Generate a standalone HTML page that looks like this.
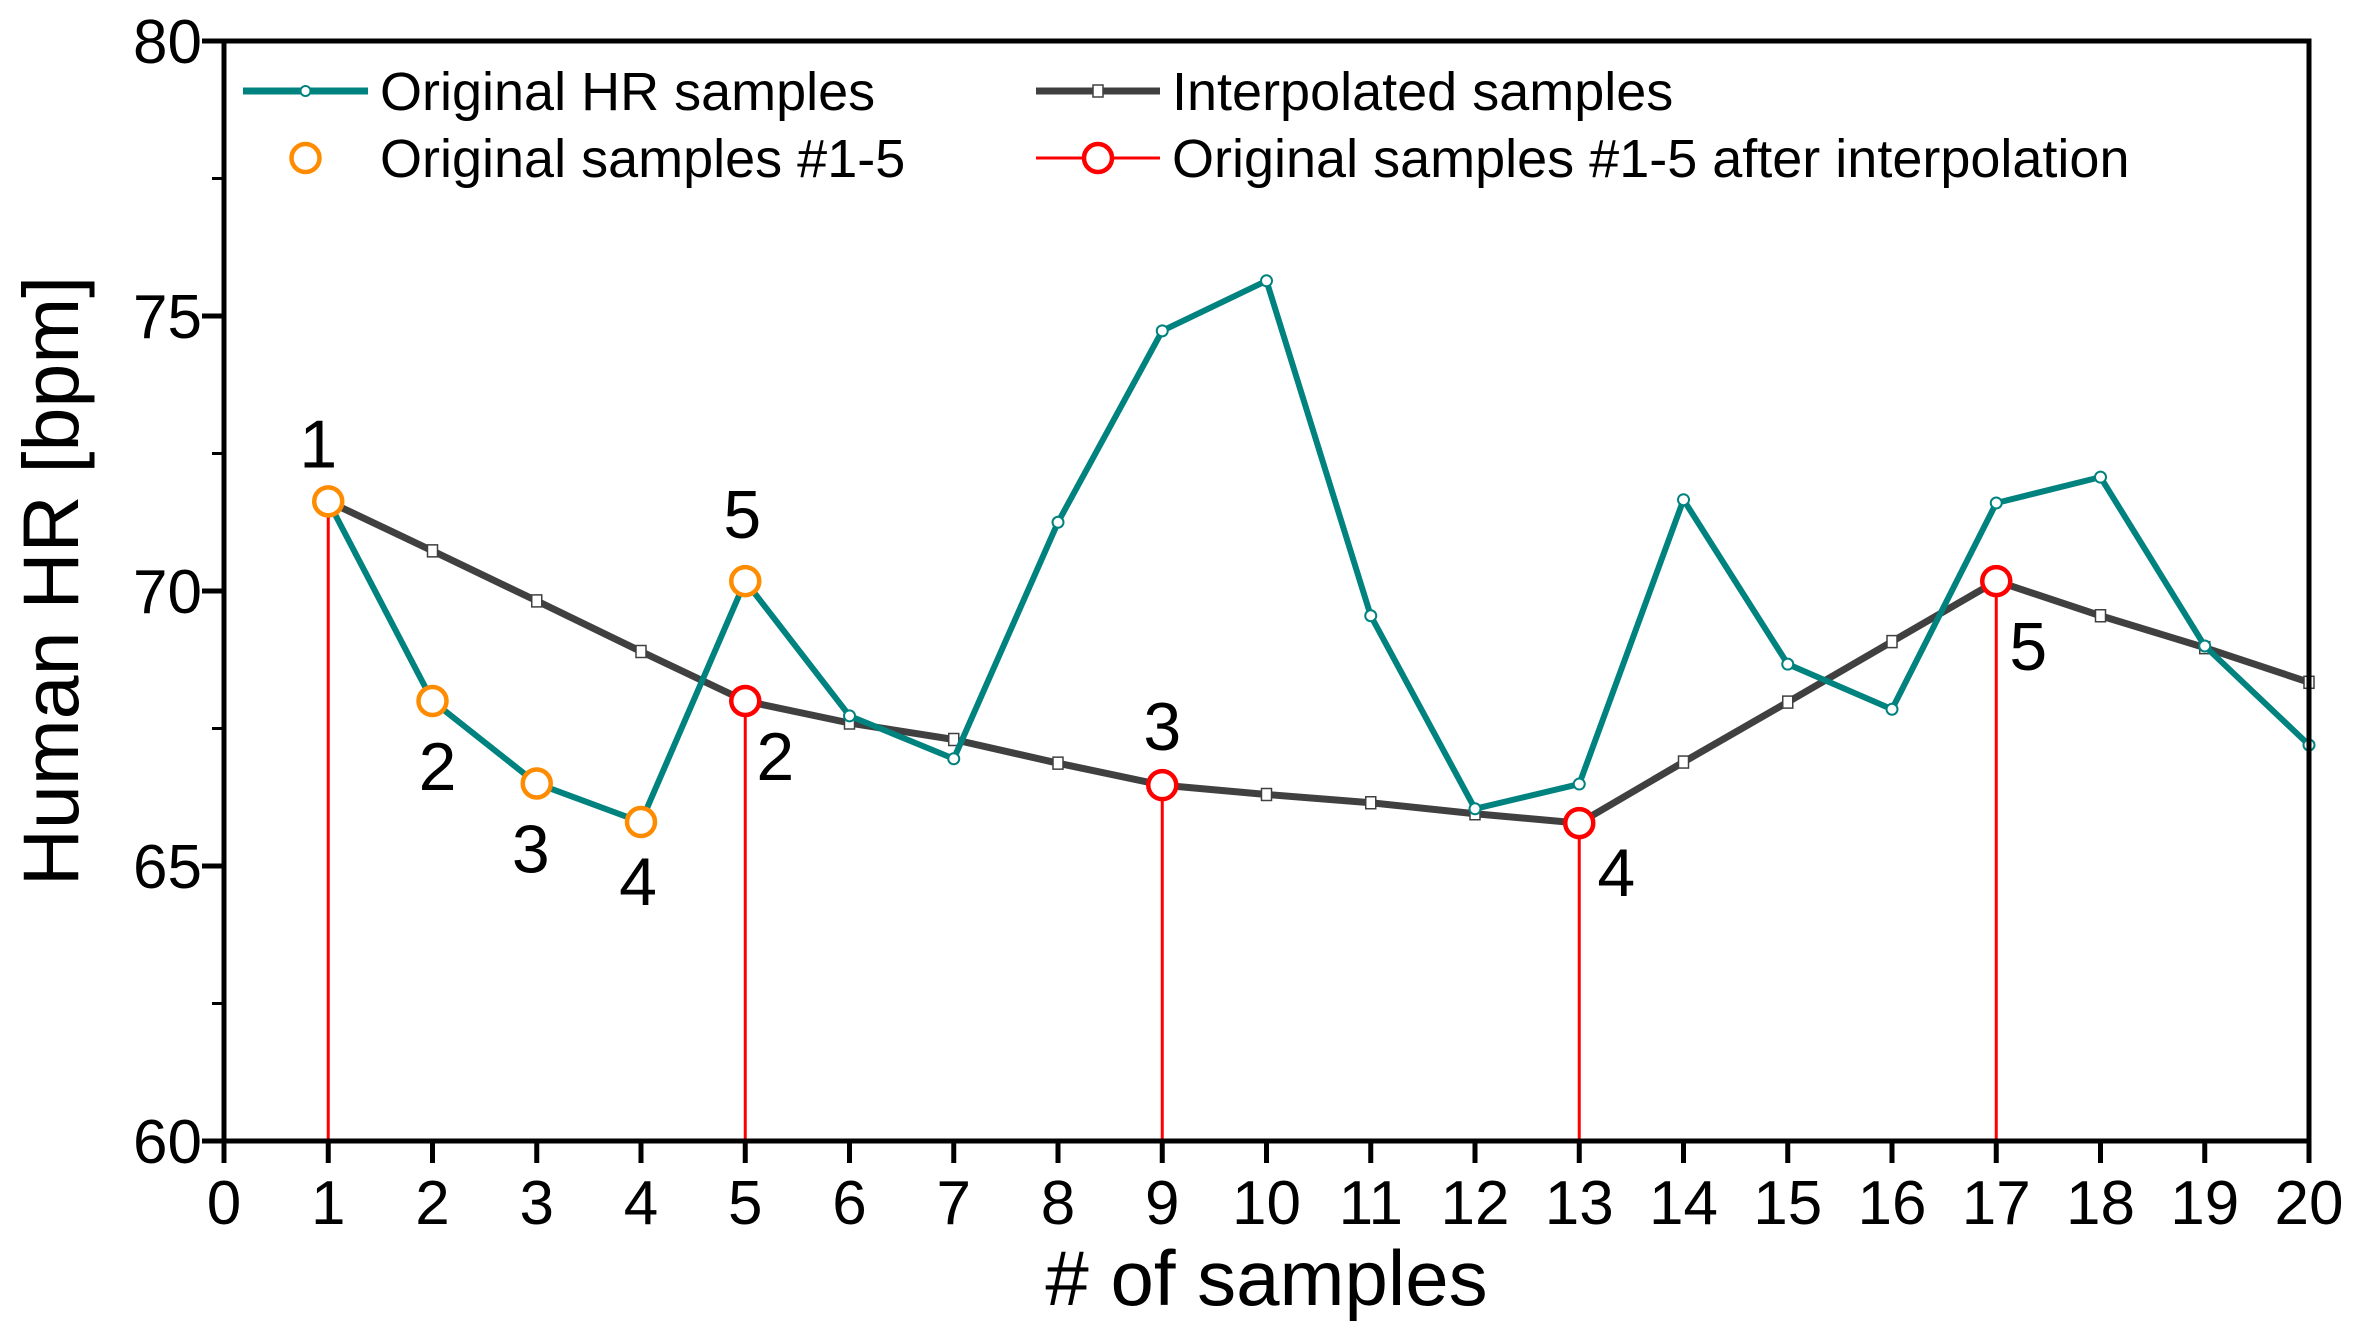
<!DOCTYPE html>
<html><head><meta charset="utf-8"><style>
html,body{margin:0;padding:0;background:#fff}
svg{display:block;font-family:"Liberation Sans",Arial,sans-serif}
</style></head><body>
<svg id="chart" width="2365" height="1338" viewBox="0 0 2365 1338" xmlns="http://www.w3.org/2000/svg">
<g id="grid"></g>
<g id="series"></g>
<g id="axes"></g>
<g id="labels"></g>
<g id="legend"></g>
</svg>
<script>
const xCats = [0,1,2,3,4,5,6,7,8,9,10,11,12,13,14,15,16,17,18,19,20];
const yTicks = [60,65,70,75,80];
const origX = [1,2,3,4,5,6,7,8,9,10,11,12,13,14,15,16,17,18,19,20];
const origHR = [71.63,68.0,66.5,65.8,70.18,67.73,66.95,71.25,74.73,75.64,69.55,66.04,66.49,71.66,68.67,67.85,71.6,72.07,69.0,67.2];
const interpX = [1,2,3,4,5,6,7,8,9,10,11,12,13,14,15,16,17,18,19,20];
const interpHR = [71.63,70.73,69.82,68.9,68.0,67.6,67.3,66.87,66.47,66.3,66.15,65.95,65.78,66.89,67.98,69.08,70.18,69.55,68.97,68.34];
const orangeIdx = [1,2,3,4,5];
const redIdx = [1,5,9,13,17];
const orangeLabels = ["1","2","3","4","5"];
const redLabels = ["1","2","3","4","5"];

const X0=224, X1=2309, Y0=1141, Y1=41;
const xs = v => X0 + (v-0)/(20-0)*(X1-X0);
const ys = v => Y0 - (v-60)/(80-60)*(Y0-Y1);
const NS="http://www.w3.org/2000/svg";
function mk(tag, attrs, parent, text){
  const e=document.createElementNS(NS,tag);
  for(const k in attrs) e.setAttribute(k,attrs[k]);
  if(text!==undefined) e.textContent=text;
  parent.appendChild(e); return e;
}
const S=document.getElementById('series'), A=document.getElementById('axes'), L=document.getElementById('labels'), G=document.getElementById('legend');
const TEAL="#00827f", GRAY="#404040", ORANGE="#ff8c00", RED="#ff0000";

redIdx.forEach((xi,i)=>{
  const v=interpHR[interpX.indexOf(xi)];
  const l=mk('line',{x1:xs(xi),x2:xs(xi),y1:ys(v),y2:Y0,stroke:RED,'stroke-width':3},S);
  
  
});
let p=mk('polyline',{points:interpX.map((x,i)=>xs(x)+','+ys(interpHR[i])).join(' '),fill:'none',stroke:GRAY,'stroke-width':7,'stroke-linejoin':'round'},S);


interpX.forEach((x,i)=>{
  const r=mk('rect',{x:xs(x)-5,y:ys(interpHR[i])-6,width:10,height:12,fill:'#fff',stroke:GRAY,'stroke-width':1.5},S);
  
  
});
p=mk('polyline',{points:origX.map((x,i)=>xs(x)+','+ys(origHR[i])).join(' '),fill:'none',stroke:TEAL,'stroke-width':6,'stroke-linejoin':'round'},S);


origX.forEach((x,i)=>{
  const c=mk('circle',{cx:xs(x),cy:ys(origHR[i]),r:5.5,fill:'#fff',stroke:TEAL,'stroke-width':2},S);
  
  
});
orangeIdx.forEach((xi,i)=>{
  const c=mk('circle',{cx:xs(xi),cy:ys(origHR[origX.indexOf(xi)]),r:14,fill:'#fff',stroke:ORANGE,'stroke-width':4.5},S);
  
  
});
redIdx.slice(1).forEach((xi,i)=>{
  const c=mk('circle',{cx:xs(xi),cy:ys(interpHR[interpX.indexOf(xi)]),r:14,fill:'#fff',stroke:RED,'stroke-width':4.5},S);
  
  
});
const oOff=[[-10,-57],[5,66],[-6,66],[-3,60],[-3,-66]];
orangeIdx.forEach((xi,i)=>{
  const t=mk('text',{x:xs(xi)+oOff[i][0],y:ys(origHR[origX.indexOf(xi)])+oOff[i][1],'font-size':68,'text-anchor':'middle','dominant-baseline':'central'},L,orangeLabels[i]);
  
  
});
const rOff=[[0,0],[30,56],[0,-58],[37,50],[32,66]];
redIdx.forEach((xi,i)=>{
  if(i===0) return;
  const t=mk('text',{x:xs(xi)+rOff[i][0],y:ys(interpHR[interpX.indexOf(xi)])+rOff[i][1],'font-size':68,'text-anchor':'middle','dominant-baseline':'central'},L,redLabels[i]);
  
  
});
let f=mk('rect',{x:X0,y:Y1,width:X1-X0,height:Y0-Y1,fill:'none',stroke:'#000','stroke-width':5},A);


xCats.forEach(v=>{
  mk('line',{x1:xs(v),x2:xs(v),y1:Y0,y2:Y0+22,stroke:'#000','stroke-width':5},A);
  const t=mk('text',{x:xs(v),y:Y0+83,'font-size':62,'text-anchor':'middle'},A,String(v));
  
  
});
yTicks.forEach((v,i)=>{
  mk('line',{x1:X0-22,x2:X0,y1:ys(v),y2:ys(v),stroke:'#000','stroke-width':5},A);
  if(i<yTicks.length-1) mk('line',{x1:X0-12,x2:X0,y1:ys(v+2.5),y2:ys(v+2.5),stroke:'#000','stroke-width':3},A);
  const t=mk('text',{x:X0-22,y:ys(v)+22,'font-size':62,'text-anchor':'end'},A,String(v));
  
  
});
let t=mk('text',{x:(X0+X1)/2,y:1305,'font-size':78,'text-anchor':'middle'},A,'# of samples');


t=mk('text',{x:0,y:0,'font-size':79,'text-anchor':'middle',transform:'translate(78,581) rotate(-90)'},A,'Human HR [bpm]');


function entry(name,y,lx0,lx1,kind,color,label){
  const g=mk('g',{},G);
  
  
  const cx=(lx0+lx1)/2;
  if(kind==='teal'){mk('line',{x1:lx0,x2:lx1,y1:y,y2:y,stroke:color,'stroke-width':7},g);mk('circle',{cx:cx,cy:y,r:5,fill:'#fff',stroke:color,'stroke-width':2},g);}
  if(kind==='gray'){mk('line',{x1:lx0,x2:lx1,y1:y,y2:y,stroke:color,'stroke-width':7},g);mk('rect',{x:cx-5,y:y-6,width:10,height:12,fill:'#fff',stroke:color,'stroke-width':1.5},g);}
  if(kind==='orange'){mk('circle',{cx:cx,cy:y,r:14,fill:'#fff',stroke:color,'stroke-width':4.5},g);}
  if(kind==='red'){mk('line',{x1:lx0,x2:lx1,y1:y,y2:y,stroke:color,'stroke-width':3},g);mk('circle',{cx:cx,cy:y,r:14,fill:'#fff',stroke:color,'stroke-width':4.5},g);}
  mk('text',{x:lx1+12,y:y+19,'font-size':54},g,label);
}
entry('legend-original-hr',91,243,368,'teal',TEAL,'Original HR samples');
entry('legend-interpolated',91,1036,1160,'gray',GRAY,'Interpolated samples');
entry('legend-original-1-5',158,243,368,'orange',ORANGE,'Original samples #1-5');
entry('legend-after-interp',158,1036,1160,'red',RED,'Original samples #1-5 after interpolation');
</script>
</body></html>
